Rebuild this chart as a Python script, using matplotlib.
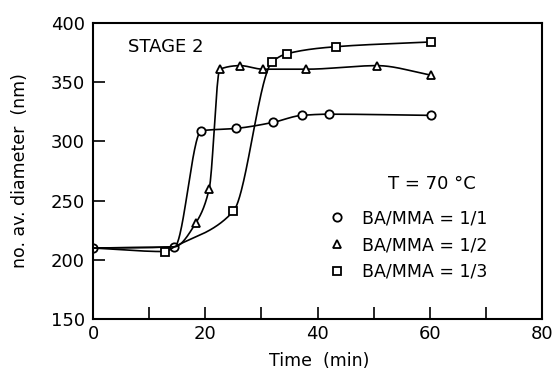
import numpy as np
import matplotlib
matplotlib.use("Agg")
import matplotlib.pyplot as plt
from matplotlib.lines import Line2D

# BA/MMA = 1/1 (circles)
t_11 = [0, 14.5, 19.3, 25.5, 32.0, 37.2, 42.0, 60.2]
d_11 = [210, 211, 309, 311, 316, 322, 323, 322]
# BA/MMA = 1/2 (triangles), first two points shared with the baseline
t_12 = [0, 14.5, 18.3, 20.7, 22.6, 26.2, 30.3, 38.0, 50.6, 60.2]
d_12 = [210, 211, 231, 260, 361, 364, 361, 361, 364, 356]
# BA/MMA = 1/3 (squares)
t_13 = [0, 12.8, 14.5, 25.0, 31.9, 34.5, 43.3, 60.2]
d_13 = [210, 207, 211, 241, 367, 374, 380, 384]

labels = ["BA/MMA = 1/1", "BA/MMA = 1/2", "BA/MMA = 1/3"]
markers = ["o", "^", "s"]


def pchip(x, y, xs):
    # monotone cubic (Fritsch-Carlson) for the smooth guide curves
    x = np.asarray(x, float)
    y = np.asarray(y, float)
    h = np.diff(x)
    d = np.diff(y) / h
    n = len(x)
    m = np.zeros(n)
    m[0], m[-1] = d[0], d[-1]
    for k in range(1, n - 1):
        if d[k - 1] * d[k] > 0:
            w1 = 2 * h[k] + h[k - 1]
            w2 = h[k] + 2 * h[k - 1]
            m[k] = (w1 + w2) / (w1 / d[k - 1] + w2 / d[k])
    idx = np.clip(np.searchsorted(x, xs) - 1, 0, n - 2)
    s = (xs - x[idx]) / h[idx]
    h00 = 2 * s**3 - 3 * s**2 + 1
    h10 = s**3 - 2 * s**2 + s
    h01 = -2 * s**3 + 3 * s**2
    h11 = s**3 - s**2
    return (h00 * y[idx] + h10 * h[idx] * m[idx]
            + h01 * y[idx + 1] + h11 * h[idx] * m[idx + 1])


fig = plt.figure(figsize=(5.52, 3.71), dpi=100)
ax = fig.add_axes([0.1685, 0.140, 0.8135, 0.798])

series = [(t_11, d_11, list(range(len(t_11)))),
          (t_12, d_12, list(range(2, len(t_12)))),
          (t_13, d_13, [1] + list(range(3, len(t_13))))]

for (t, d, show), mk in zip(series, markers):
    xs = np.linspace(t[0], t[-1], 600)
    ax.plot(xs, pchip(t, d, xs), color="black", lw=1.2)
    ax.plot(np.array(t)[show], np.array(d)[show], ls="none", marker=mk,
            ms=6, mfc="white", mec="black", mew=1.3)

ax.set_xlim(0, 80)
ax.set_ylim(150, 400)
ax.set_xticks([0, 20, 40, 60, 80])
ax.set_xticks([10, 30, 50, 70], minor=True)
ax.set_yticks([150, 200, 250, 300, 350, 400])
ax.tick_params(axis="both", which="both", direction="in", length=8.5,
               width=1.2, labelsize=13)
ax.tick_params(axis="x", pad=4)
ax.tick_params(axis="y", pad=6)
for sp in ax.spines.values():
    sp.set_linewidth(1.5)

ax.set_xlabel("Time  (min)", fontsize=12.5)
ax.set_ylabel("no. av. diameter  (nm)", fontsize=12.5)
ax.xaxis.set_label_coords(0.503, -0.11)
ax.yaxis.set_label_coords(-0.142, 0.503)

ax.text(0.078, 0.92, "STAGE 2", transform=ax.transAxes, fontsize=13,
        va="center", ha="left")
ax.text(0.755, 0.455, "T = 70 °C", transform=ax.transAxes, fontsize=13,
        va="center", ha="center")

handles = [Line2D([], [], ls="none", marker=mk, ms=6, mfc="white",
                  mec="black", mew=1.3) for mk in markers]
ax.legend(handles, labels, loc="upper left", bbox_to_anchor=(0.533, 0.37),
          frameon=False, fontsize=12.5, handlelength=0.5,
          handletextpad=1.2, labelspacing=0.5, borderpad=0,
          borderaxespad=0)

fig.savefig("out.png", dpi=100)
